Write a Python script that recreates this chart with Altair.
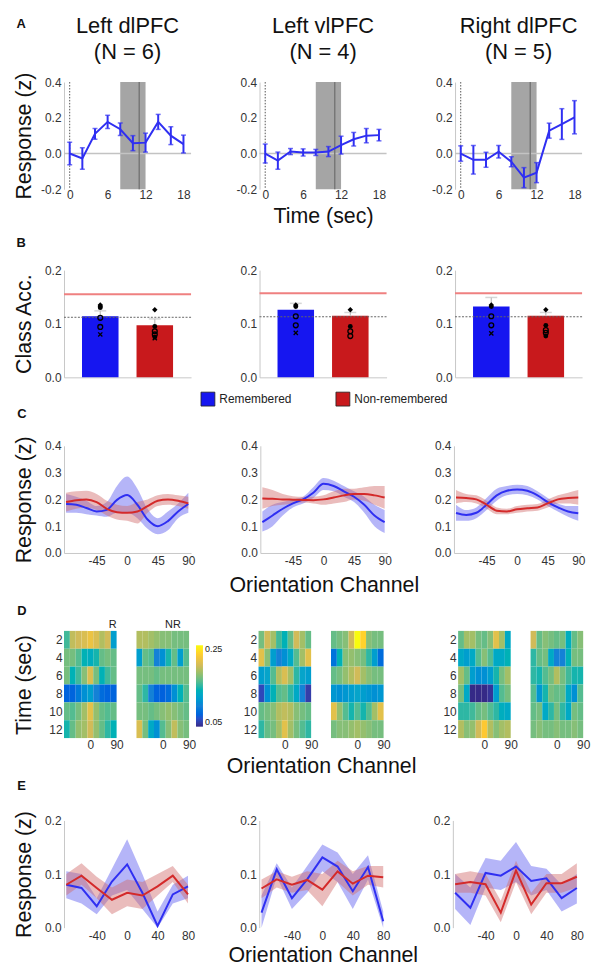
import altair as alt
import pandas as pd

FONT = "Liberation Sans"
LINE_BLUE = "#2f2ff2"
LINE_RED = "#d42a2a"
BAND_BLUE = "#5a5af0"
BAND_RED = "#d06a6a"
BAR_BLUE = "#1616f0"
BAR_RED = "#c8191c"
AXIS_GRAY = "#c8c8c8"
TXT = "#222222"
PARULA = ["#352a87", "#0f5cdd", "#1481d6", "#06a4ca", "#2eb7a4",
          "#87bf77", "#d1bb59", "#fec832", "#f9fb0e"]

regions = ["Left dlPFC", "Left vlPFC", "Right dlPFC"]
n_subjects = [6, 4, 5]
conditions = ["Remembered", "Non-remembered"]

# ---------------- A: time course ----------------
time_points = [0, 2, 4, 6, 8, 10, 12, 14, 16, 18]
a_mean = [
    [0.0, -0.028, 0.11, 0.177, 0.136, 0.058, 0.061, 0.177, 0.10, 0.053],
    [0.0, -0.04, 0.011, 0.006, 0.006, 0.011, 0.047, 0.08, 0.10, 0.103],
    [0.0, -0.035, -0.035, 0.01, -0.046, -0.135, -0.107, 0.128, 0.165, 0.203],
]
a_err = [
    [0.063, 0.06, 0.03, 0.037, 0.035, 0.042, 0.053, 0.042, 0.05, 0.05],
    [0.053, 0.048, 0.017, 0.02, 0.017, 0.028, 0.05, 0.038, 0.04, 0.032],
    [0.043, 0.08, 0.042, 0.035, 0.028, 0.056, 0.056, 0.042, 0.086, 0.093],
]
delay_window = [8, 12]
probe_time = [11]
onset_time = [0]

# ---------------- B: classification accuracy ----------------
b_mean_rem = [0.114, 0.126, 0.132]
b_err_rem = [0.010, 0.012, 0.017]
b_mean_non = [0.097, 0.115, 0.115]
b_err_non = [0.012, 0.006, 0.006]
b_threshold = [0.155, 0.157, 0.157]
b_chance = [0.112, 0.113, 0.113]
b_subj_rem = [[0.135, 0.132, 0.130, 0.111, 0.094, 0.080],
              [0.135, 0.132, 0.114, 0.097, 0.083],
              [0.135, 0.132, 0.114, 0.097, 0.082]]
b_style_rem = [["diamond", "dot", "dot", "open", "open", "x"],
               ["diamond", "dot", "open", "open", "x"],
               ["diamond", "dot", "open", "open", "x"]]
b_subj_non = [[0.126, 0.095, 0.086, 0.080, 0.075, 0.073],
              [0.126, 0.095, 0.086, 0.077],
              [0.126, 0.097, 0.088, 0.083, 0.077]]
b_style_non = [["diamond", "dot", "open", "open", "dot", "x"],
               ["diamond", "dot", "open", "open"],
               ["diamond", "dot", "open", "open", "dot"]]

# ---------------- C: reconstructions ----------------
channels_c = [-90, -75, -60, -45, -30, -15, 0, 15, 30, 45, 60, 75, 90]
c_rem_mean = [
    [0.183, 0.180, 0.168, 0.155, 0.161, 0.198, 0.216, 0.180, 0.125, 0.100, 0.119, 0.155, 0.183],
    [0.115, 0.140, 0.165, 0.185, 0.200, 0.225, 0.258, 0.250, 0.230, 0.210, 0.180, 0.140, 0.115],
    [0.149, 0.142, 0.150, 0.180, 0.215, 0.232, 0.237, 0.232, 0.215, 0.190, 0.170, 0.155, 0.148],
]
c_rem_lo = [
    [0.150, 0.150, 0.145, 0.140, 0.135, 0.150, 0.150, 0.130, 0.090, 0.070, 0.085, 0.130, 0.150],
    [0.080, 0.100, 0.140, 0.170, 0.185, 0.205, 0.235, 0.230, 0.210, 0.190, 0.150, 0.100, 0.075],
    [0.120, 0.120, 0.130, 0.160, 0.195, 0.215, 0.220, 0.215, 0.200, 0.175, 0.155, 0.135, 0.120],
]
c_rem_hi = [
    [0.220, 0.210, 0.195, 0.175, 0.190, 0.250, 0.285, 0.240, 0.165, 0.130, 0.155, 0.185, 0.225],
    [0.155, 0.180, 0.190, 0.200, 0.210, 0.245, 0.280, 0.270, 0.250, 0.230, 0.210, 0.180, 0.160],
    [0.180, 0.160, 0.170, 0.205, 0.240, 0.250, 0.255, 0.250, 0.230, 0.205, 0.185, 0.175, 0.175],
]
c_non_mean = [
    [0.190, 0.197, 0.200, 0.190, 0.165, 0.152, 0.150, 0.155, 0.175, 0.195, 0.200, 0.195, 0.185],
    [0.203, 0.202, 0.200, 0.199, 0.198, 0.197, 0.200, 0.207, 0.215, 0.220, 0.220, 0.215, 0.207],
    [0.207, 0.205, 0.200, 0.180, 0.158, 0.155, 0.163, 0.167, 0.170, 0.185, 0.200, 0.205, 0.207],
]
c_non_lo = [
    [0.155, 0.165, 0.170, 0.160, 0.140, 0.125, 0.120, 0.110, 0.150, 0.175, 0.180, 0.175, 0.165],
    [0.165, 0.175, 0.180, 0.185, 0.188, 0.185, 0.180, 0.185, 0.190, 0.200, 0.195, 0.180, 0.165],
    [0.185, 0.190, 0.185, 0.165, 0.145, 0.145, 0.150, 0.155, 0.158, 0.170, 0.185, 0.185, 0.180],
]
c_non_hi = [
    [0.225, 0.230, 0.232, 0.220, 0.195, 0.180, 0.175, 0.190, 0.200, 0.215, 0.220, 0.215, 0.210],
    [0.245, 0.235, 0.220, 0.212, 0.210, 0.210, 0.215, 0.230, 0.240, 0.240, 0.245, 0.250, 0.250],
    [0.235, 0.220, 0.215, 0.195, 0.170, 0.165, 0.175, 0.180, 0.183, 0.200, 0.215, 0.225, 0.235],
]

# ---------------- D: time-resolved heatmaps ----------------
times_d = [2, 4, 6, 8, 10, 12]
channels_d = [-80, -60, -40, -20, 0, 20, 40, 60, 80]
d_rem = [
    [[0.155, 0.195, 0.200, 0.205, 0.215, 0.205, 0.190, 0.200, 0.120],
     [0.170, 0.170, 0.160, 0.140, 0.135, 0.145, 0.165, 0.170, 0.165],
     [0.170, 0.140, 0.155, 0.175, 0.205, 0.170, 0.140, 0.155, 0.165],
     [0.080, 0.080, 0.095, 0.110, 0.120, 0.100, 0.085, 0.080, 0.080],
     [0.165, 0.160, 0.170, 0.185, 0.210, 0.180, 0.165, 0.160, 0.165],
     [0.145, 0.165, 0.180, 0.185, 0.200, 0.180, 0.165, 0.150, 0.140]],
    [[0.170, 0.200, 0.185, 0.155, 0.140, 0.165, 0.200, 0.185, 0.165],
     [0.210, 0.175, 0.120, 0.100, 0.110, 0.130, 0.160, 0.185, 0.210],
     [0.120, 0.125, 0.160, 0.190, 0.205, 0.185, 0.150, 0.125, 0.120],
     [0.065, 0.110, 0.140, 0.160, 0.165, 0.150, 0.130, 0.100, 0.060],
     [0.165, 0.170, 0.175, 0.190, 0.195, 0.190, 0.175, 0.170, 0.165],
     [0.150, 0.165, 0.170, 0.185, 0.210, 0.185, 0.170, 0.160, 0.150]],
    [[0.165, 0.185, 0.185, 0.170, 0.165, 0.175, 0.210, 0.185, 0.130],
     [0.130, 0.120, 0.130, 0.160, 0.175, 0.160, 0.130, 0.130, 0.140],
     [0.185, 0.165, 0.120, 0.110, 0.110, 0.120, 0.145, 0.170, 0.185],
     [0.170, 0.130, 0.050, 0.050, 0.050, 0.055, 0.120, 0.160, 0.170],
     [0.150, 0.150, 0.155, 0.165, 0.170, 0.160, 0.150, 0.135, 0.130],
     [0.190, 0.175, 0.180, 0.200, 0.225, 0.190, 0.175, 0.185, 0.190]],
]
d_non = [
    [[0.190, 0.190, 0.185, 0.180, 0.175, 0.175, 0.170, 0.170, 0.170],
     [0.120, 0.165, 0.160, 0.100, 0.110, 0.145, 0.165, 0.120, 0.160],
     [0.170, 0.170, 0.170, 0.165, 0.170, 0.170, 0.170, 0.170, 0.170],
     [0.165, 0.150, 0.100, 0.080, 0.078, 0.085, 0.110, 0.140, 0.160],
     [0.170, 0.170, 0.165, 0.170, 0.175, 0.180, 0.175, 0.170, 0.165],
     [0.205, 0.170, 0.130, 0.110, 0.160, 0.175, 0.195, 0.175, 0.170]],
    [[0.165, 0.170, 0.175, 0.200, 0.250, 0.230, 0.175, 0.170, 0.170],
     [0.090, 0.140, 0.175, 0.180, 0.175, 0.170, 0.150, 0.120, 0.085],
     [0.165, 0.170, 0.180, 0.190, 0.200, 0.185, 0.175, 0.170, 0.170],
     [0.115, 0.110, 0.115, 0.120, 0.125, 0.120, 0.115, 0.110, 0.115],
     [0.210, 0.180, 0.160, 0.145, 0.160, 0.145, 0.160, 0.185, 0.210],
     [0.170, 0.175, 0.175, 0.180, 0.185, 0.180, 0.175, 0.170, 0.170]],
    [[0.200, 0.165, 0.175, 0.170, 0.165, 0.170, 0.135, 0.165, 0.175],
     [0.150, 0.165, 0.170, 0.130, 0.100, 0.100, 0.140, 0.170, 0.170],
     [0.150, 0.145, 0.160, 0.170, 0.190, 0.170, 0.155, 0.145, 0.145],
     [0.160, 0.115, 0.145, 0.170, 0.165, 0.165, 0.130, 0.110, 0.160],
     [0.165, 0.170, 0.130, 0.150, 0.170, 0.150, 0.130, 0.170, 0.165],
     [0.170, 0.175, 0.170, 0.170, 0.175, 0.170, 0.170, 0.175, 0.170]],
]
NR_OFFSET = 248  # horizontal offset (deg units) of the NR map within each panel
heat_labels = ["R", "NR"]
heat_label_x = [90, 310]

# ---------------- E: single-channel responses ----------------
channels_e = [-80, -60, -40, -20, 0, 20, 40, 60, 80]
e_rem_mean = [
    [0.080, 0.074, 0.040, 0.086, 0.118, 0.065, 0.003, 0.062, 0.077],
    [0.028, 0.109, 0.055, 0.090, 0.131, 0.114, 0.068, 0.113, 0.012],
    [0.065, 0.037, 0.102, 0.097, 0.114, 0.087, 0.092, 0.055, 0.074],
]
e_rem_lo = [
    [0.055, 0.045, 0.025, 0.060, 0.070, 0.035, 0.000, 0.045, 0.055],
    [0.000, 0.095, 0.035, 0.065, 0.105, 0.085, 0.035, 0.090, 0.000],
    [0.035, 0.005, 0.075, 0.070, 0.085, 0.060, 0.070, 0.030, 0.045],
]
e_rem_hi = [
    [0.105, 0.100, 0.055, 0.110, 0.165, 0.100, 0.030, 0.080, 0.097],
    [0.060, 0.120, 0.075, 0.115, 0.155, 0.140, 0.100, 0.135, 0.030],
    [0.100, 0.075, 0.130, 0.125, 0.160, 0.115, 0.110, 0.080, 0.100],
]
e_non_mean = [
    [0.080, 0.097, 0.074, 0.052, 0.065, 0.060, 0.077, 0.097, 0.062],
    [0.073, 0.090, 0.080, 0.089, 0.071, 0.105, 0.082, 0.097, 0.094],
    [0.081, 0.085, 0.081, 0.028, 0.107, 0.043, 0.083, 0.083, 0.095],
]
e_non_lo = [
    [0.060, 0.080, 0.055, 0.025, 0.040, 0.035, 0.060, 0.085, 0.045],
    [0.055, 0.075, 0.065, 0.070, 0.040, 0.085, 0.060, 0.080, 0.075],
    [0.065, 0.065, 0.060, 0.010, 0.085, 0.025, 0.065, 0.065, 0.075],
]
e_non_hi = [
    [0.100, 0.120, 0.095, 0.075, 0.090, 0.085, 0.100, 0.115, 0.080],
    [0.090, 0.105, 0.095, 0.105, 0.100, 0.125, 0.105, 0.115, 0.115],
    [0.100, 0.105, 0.100, 0.050, 0.125, 0.065, 0.100, 0.100, 0.120],
]

W, H = 128, 108
WD = 126
YEXT = 26


def neg_expr(fmt):
    return ("datum.value < 0 ? '-' + format(-datum.value, '%s') : format(datum.value, '%s')"
            % (fmt, fmt))


def text_at(txt, dx, dy, size, weight="normal", align="left", baseline="top"):
    return alt.Chart(pd.DataFrame({"txt": [txt]})).mark_text(
        font=FONT, fontSize=size, fontWeight=weight, align=align, baseline=baseline,
        color="#111111").encode(text="txt:N", x=alt.value(dx), y=alt.value(dy))


def letter(ch, dx, dy):
    return text_at(ch, dx, dy, 13, weight="bold")


def panel_a(i):
    df = pd.DataFrame({"t": time_points, "m": a_mean[i], "e": a_err[i]})
    df["lo"] = df["m"] - df["e"]
    df["hi"] = df["m"] + df["e"]
    xs = alt.Scale(domain=[-0.9, 19.2], nice=False, zero=False)
    ys = alt.Scale(domain=[-0.2, 0.4], nice=False, zero=False)
    xax = alt.Axis(values=[0, 6, 12, 18], domain=False, labelPadding=0,
                   title="Time (sec)" if i == 1 else None, titlePadding=5.5)
    yax = alt.Axis(values=[-0.2, 0, 0.2, 0.4], labelExpr=neg_expr(".1f"), labelPadding=3,
                   minExtent=YEXT, maxExtent=YEXT,
                   title="Response (z)" if i == 0 else None, titlePadding=3)

    def X(f):
        return alt.X(f, scale=xs, axis=xax)

    def Y(f):
        return alt.Y(f, scale=ys, axis=yax)

    shade = alt.Chart(pd.DataFrame({"s": [delay_window[0]], "e": [delay_window[1]],
                                    "lo": [-0.2], "hi": [0.4]})).mark_rect(
        color="#a5a5a5").encode(x=X("s:Q"), x2="e:Q", y=Y("lo:Q"), y2="hi:Q")
    zero = alt.Chart(pd.DataFrame({"z": [0.0]})).mark_rule(
        color="#c3c3c3", strokeWidth=1.5).encode(y=Y("z:Q"))
    onset = alt.Chart(pd.DataFrame({"t": onset_time})).mark_rule(
        color="#555555", strokeWidth=1, strokeDash=[1.5, 1.5]).encode(x=X("t:Q"))
    probe = alt.Chart(pd.DataFrame({"t": probe_time})).mark_rule(
        color="#777777", strokeWidth=1.5).encode(x=X("t:Q"))
    err = alt.Chart(df).mark_rule(color=LINE_BLUE, strokeWidth=2).encode(
        x=X("t:Q"), y=Y("lo:Q"), y2="hi:Q")
    cap_lo = alt.Chart(df).mark_tick(color=LINE_BLUE, orient="horizontal", size=5,
                                     thickness=1.5).encode(x=X("t:Q"), y=Y("lo:Q"))
    cap_hi = alt.Chart(df).mark_tick(color=LINE_BLUE, orient="horizontal", size=5,
                                     thickness=1.5).encode(x=X("t:Q"), y=Y("hi:Q"))
    line = alt.Chart(df).mark_line(color=LINE_BLUE, strokeWidth=2).encode(
        x=X("t:Q"), y=Y("m:Q"))
    title1 = text_at(regions[i], W / 2, -49, 22, align="center", baseline="alphabetic")
    title2 = text_at("(N = %d)" % n_subjects[i], W / 2, -23, 22, align="center",
                     baseline="alphabetic")
    layers = [shade, zero, onset, probe, err, cap_lo, cap_hi, line, title1, title2]
    if i == 0:
        layers.append(letter("A", -48, -64))
    return alt.layer(*layers).properties(width=W, height=H)


def panel_b(i):
    bars = pd.DataFrame({"cond": conditions,
                         "m": [b_mean_rem[i], b_mean_non[i]],
                         "e": [b_err_rem[i], b_err_non[i]]})
    bars["hi"] = bars["m"] + bars["e"]
    pts = pd.DataFrame({
        "cond": [conditions[0]] * len(b_subj_rem[i]) + [conditions[1]] * len(b_subj_non[i]),
        "v": b_subj_rem[i] + b_subj_non[i],
        "style": b_style_rem[i] + b_style_non[i]})
    xs = alt.Scale(domain=conditions, paddingInner=0.33, paddingOuter=0.33)
    ys = alt.Scale(domain=[0, 0.2], nice=False)
    xax = alt.Axis(labels=False, title=None, domain=True)
    yax = alt.Axis(values=[0, 0.1, 0.2], format=".1f", labelPadding=3,
                   minExtent=YEXT, maxExtent=YEXT,
                   title="Class Acc." if i == 0 else None, titlePadding=3)
    X = alt.X("cond:N", scale=xs, axis=xax)

    def Y(f):
        return alt.Y(f, scale=ys, axis=yax)

    bar = alt.Chart(bars).mark_bar().encode(
        x=X, y=Y("m:Q"),
        color=alt.Color("cond:N", scale=alt.Scale(domain=conditions, range=[BAR_BLUE, BAR_RED]),
                        legend=None))
    chance = alt.Chart(pd.DataFrame({"y": [b_chance[i]]})).mark_rule(
        color="#666666", strokeWidth=1, strokeDash=[2, 1.5]).encode(y=Y("y:Q"))
    thr = alt.Chart(pd.DataFrame({"y": [b_threshold[i]]})).mark_rule(
        color="#ef8080", strokeWidth=2).encode(y=Y("y:Q"))
    err = alt.Chart(bars).mark_rule(color="#bdbdbd", strokeWidth=1.2).encode(
        x=X, y=Y("m:Q"), y2="hi:Q")
    cap = alt.Chart(bars).mark_tick(color="#c4c4c4", size=12, thickness=1.5).encode(
        x=X, y=Y("hi:Q"))

    def dots(style, **mk):
        return alt.Chart(pts).transform_filter(alt.datum.style == style).mark_point(
            color="#000000", opacity=1, **mk).encode(x=X, y=Y("v:Q"))

    layers = [bar, chance, thr, err, cap,
              dots("diamond", shape="diamond", filled=True, size=30),
              dots("dot", shape="circle", filled=True, size=24),
              dots("open", shape="circle", filled=False, size=24, strokeWidth=1.3),
              dots("x", shape="M-1,-1L1,1M1,-1L-1,1", filled=False, size=18, strokeWidth=1.3)]
    if i == 0:
        layers.append(letter("B", -48, -33.5))
    return alt.layer(*layers).properties(width=W, height=H)


def legend_row():
    df = pd.DataFrame({"cond": conditions})
    return alt.Chart(df).mark_square(size=0, stroke="#222222", strokeWidth=0.8).encode(
        color=alt.Color("cond:N",
                        scale=alt.Scale(domain=conditions, range=[BAR_BLUE, BAR_RED]),
                        legend=alt.Legend(orient="none", legendX=137.5, legendY=0,
                                          direction="horizontal", title=None,
                                          symbolType="square", symbolSize=196,
                                          symbolStrokeColor="#222222", symbolStrokeWidth=0.8,
                                          symbolOpacity=1, labelFont=FONT, labelFontSize=12,
                                          labelColor=TXT, columnPadding=42, labelOffset=4,
                                          padding=0))
    ).properties(width=1, height=1)


def curve_panel(i, row):
    if row == "C":
        ch = channels_c
        rm, rl, rh = c_rem_mean[i], c_rem_lo[i], c_rem_hi[i]
        nm, nl, nh = c_non_mean[i], c_non_lo[i], c_non_hi[i]
        xdom, xvals, ydom, yvals = [-93, 94], [-45, 0, 45, 90], [0, 0.4], [0, 0.1, 0.2, 0.3, 0.4]
        interp, xdomain_line, lpad, tpad, ly = "monotone", True, 3, 8, -38
    else:
        ch = channels_e
        rm, rl, rh = e_rem_mean[i], e_rem_lo[i], e_rem_hi[i]
        nm, nl, nh = e_non_mean[i], e_non_lo[i], e_non_hi[i]
        xdom, xvals, ydom, yvals = [-83, 84], [-40, 0, 40, 80], [0, 0.2], [0, 0.1, 0.2]
        interp, xdomain_line, lpad, tpad, ly = "linear", False, 2.5, 4, -40.5
    df = pd.DataFrame({
        "ch": ch * 2,
        "cond": [conditions[0]] * len(ch) + [conditions[1]] * len(ch),
        "m": rm + nm, "lo": rl + nl, "hi": rh + nh})
    xs = alt.Scale(domain=xdom, nice=False, zero=False)
    ys = alt.Scale(domain=ydom, nice=False)
    xax = alt.Axis(values=xvals, labelExpr=neg_expr("d"), domain=xdomain_line, labelPadding=lpad,
                   title="Orientation Channel" if i == 1 else None, titlePadding=tpad)
    yax = alt.Axis(values=yvals, format=".1f", labelPadding=3, minExtent=YEXT, maxExtent=YEXT,
                   title="Response (z)" if i == 0 else None, titlePadding=3)
    X = alt.X("ch:Q", scale=xs, axis=xax)
    band = alt.Chart(df).mark_area(opacity=0.45, interpolate=interp).encode(
        x=X, y=alt.Y("lo:Q", scale=ys, axis=yax), y2="hi:Q",
        fill=alt.Fill("cond:N", scale=alt.Scale(domain=conditions, range=[BAND_BLUE, BAND_RED]),
                      legend=None))
    line = alt.Chart(df).mark_line(strokeWidth=2, interpolate=interp).encode(
        x=X, y=alt.Y("m:Q", scale=ys, axis=yax),
        stroke=alt.Stroke("cond:N", scale=alt.Scale(domain=conditions, range=[LINE_BLUE, LINE_RED]),
                          legend=None))
    layers = [band, line]
    if i == 0:
        layers.append(letter(row, -47, ly))
    return alt.layer(*layers).properties(width=W, height=H)


def panel_d(i):
    recs = []
    for grid, off in ((d_rem[i], 0), (d_non[i], NR_OFFSET)):
        for t, vals in zip(times_d, grid):
            for c, v in zip(channels_d, vals):
                recs.append({"x0": c - 10 + off, "x1": c + 10 + off,
                             "t0": t - 1, "t1": t + 1, "v": v})
    df = pd.DataFrame(recs)
    xs = alt.Scale(domain=[-90, 90 + NR_OFFSET], nice=False, zero=False)
    ys = alt.Scale(domain=[1, 13], reverse=True, nice=False, zero=False)
    xax = alt.Axis(values=[0, 90, NR_OFFSET, 90 + NR_OFFSET],
                   labelExpr="format(datum.value > 120 ? datum.value - %d : datum.value, 'd')" % NR_OFFSET,
                   domain=False, labelPadding=2,
                   title="Orientation Channel" if i == 1 else None, titlePadding=4.5)
    yax = alt.Axis(values=times_d, format="d", domain=False, labelPadding=2,
                   minExtent=YEXT, maxExtent=YEXT,
                   title="Time (sec)" if i == 0 else None, titlePadding=3)
    if i == 0:
        leg = alt.Legend(orient="none", legendX=133, legendY=14.5, title=None,
                         direction="vertical", gradientLength=82, gradientThickness=7,
                         gradientStrokeWidth=0, values=[0.05, 0.25], format=".2f",
                         labelFont=FONT, labelFontSize=9, labelOffset=2, labelColor=TXT,
                         padding=0)
    else:
        leg = None
    heat = alt.Chart(df).mark_rect(strokeWidth=0).encode(
        x=alt.X("x0:Q", scale=xs, axis=xax), x2="x1:Q",
        y=alt.Y("t0:Q", scale=ys, axis=yax), y2="t1:Q",
        color=alt.Color("v:Q", scale=alt.Scale(domain=[0.05, 0.25], range=PARULA, clamp=True),
                        legend=leg))
    layers = [heat]
    if i == 0:
        lab = pd.DataFrame({"lab": heat_labels, "x": heat_label_x, "y": [1, 1]})
        layers.append(alt.Chart(lab).mark_text(
            font=FONT, fontSize=11, align="right", baseline="alphabetic", dy=-3, color=TXT
        ).encode(text="lab:N", x=alt.X("x:Q", scale=xs, axis=xax),
                 y=alt.Y("y:Q", scale=ys, axis=yax)))
        layers.append(letter("D", -47, -26.5))
    return alt.layer(*layers).properties(width=WD, height=H)


RES = dict(color="independent", fill="independent", stroke="independent")


def hrow(p, s12, s23):
    inner = alt.hconcat(p[1], p[2], spacing=s23).resolve_scale(**RES)
    return alt.hconcat(p[0], inner, spacing=s12).resolve_scale(**RES)


def vstack(top, bottom, s):
    return alt.vconcat(top, bottom, spacing=s).resolve_scale(**RES)


rowA = hrow([panel_a(i) for i in range(3)], 42, 42)
rowB = hrow([panel_b(i) for i in range(3)], 42, 42)
rowC = hrow([curve_panel(i, "C") for i in range(3)], 33.8, 9.1)
rowD = hrow([panel_d(i) for i in range(3)], 3, 16.1)
rowE = hrow([curve_panel(i, "E") for i in range(3)], 32.7, 9.1)

chart = vstack(rowA,
               vstack(rowB,
                      vstack(legend_row(),
                             vstack(rowC, vstack(rowD, rowE, 3), 7.5),
                             0),
                      6),
               9.5)

chart = chart.properties(
    padding={"left": 13.5, "top": 12, "right": 2, "bottom": 0},
    background="white",
).configure_axis(
    labelFont=FONT, labelFontSize=12, labelColor="#333333",
    titleFont=FONT, titleFontSize=21.5, titleFontWeight="normal", titleColor="#111111",
    ticks=False, grid=False, domainColor=AXIS_GRAY, domainWidth=1, labelFlush=False,
).configure_view(stroke=None)

chart.save("out.html", embed_options={"renderer": "svg", "actions": False})
